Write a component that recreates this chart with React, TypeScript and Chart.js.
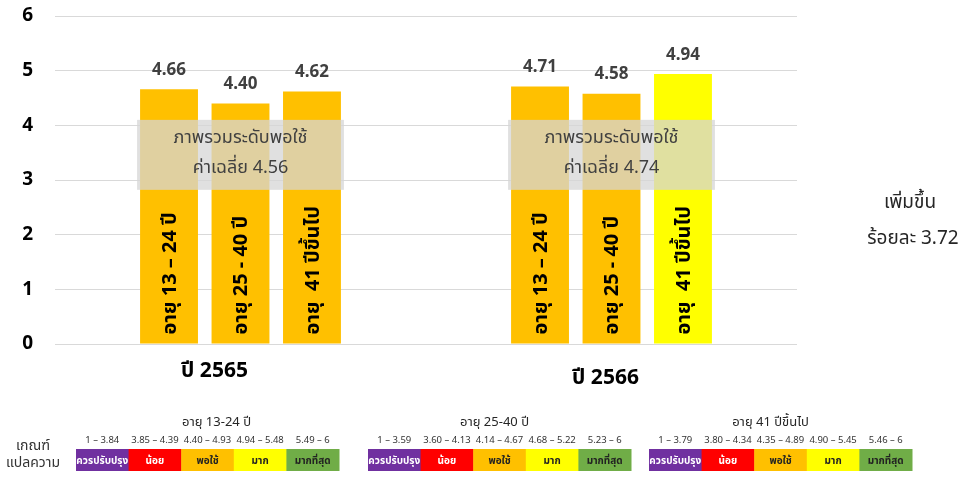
import React, { useEffect, useRef } from "react";
import { Chart, registerables } from "chart.js";

Chart.register(...registerables);

// ---------- data ----------
const years = ["ปี 2565", "ปี 2566"];
const ageGroups = ["อายุ 13 – 24 ปี", "อายุ 25 - 40 ปี", "อายุ  41 ปีขึ้นไป"];
const age13to24 = [4.66, 4.71];
const age25to40 = [4.4, 4.58];
const age41up = [4.62, 4.94];
const age13to24Colors = ["#FFC000", "#FFC000"];
const age25to40Colors = ["#FFC000", "#FFC000"];
const age41upColors = ["#FFC000", "#FFFF00"];
const overallText = ["ภาพรวมระดับพอใช้", "ภาพรวมระดับพอใช้"];
const overallMeans = ["4.56", "4.74"];
const changeLines = ["เพิ่มขึ้น", "ร้อยละ 3.72"];
const yTicks = [0, 1, 2, 3, 4, 5, 6];

const criteriaTitles = ["อายุ 13-24 ปี", "อายุ 25-40 ปี", "อายุ 41 ปีขึ้นไป"];
const criteriaRanges13to24 = ["1 – 3.84", "3.85 – 4.39", "4.40 – 4.93", "4.94 – 5.48", "5.49 – 6"];
const criteriaRanges25to40 = ["1 – 3.59", "3.60 – 4.13", "4.14 – 4.67", "4.68 – 5.22", "5.23 – 6"];
const criteriaRanges41up = ["1 – 3.79", "3.80 – 4.34", "4.35 – 4.89", "4.90 – 5.45", "5.46 – 6"];
const criteriaLevels = ["ควรปรับปรุง", "น้อย", "พอใช้", "มาก", "มากที่สุด"];
const criteriaColors = ["#7030A0", "#FF0000", "#FFC000", "#FFFF00", "#70AD47"];
const criteriaTextColors = ["#FFFFFF", "#FFFFFF", "#222222", "#222222", "#222222"];
const criteriaHeader = ["เกณฑ์", "แปลความ"];

// ---------- layout (styles / positions) ----------
const FONT = "'Noto Sans', 'Noto Sans Thai', Tahoma, 'DejaVu Sans', sans-serif";
const tableLefts = [76, 368, 649];
const tableTitleOffsets = [9, -5, -10];
const CELL_W = 52.6;
const CELL_H = 22;
const CELL_TOP = 449;
const yearLabelOffsets = [
  { dx: -26, y: 371 },
  { dx: -6, y: 378 },
];
const BOX_TOP_VALUE = 4.1;
const BOX_BOTTOM_VALUE = 2.82;

const annotations = {
  id: "annotations",
  afterDatasetsDraw(chart: any) {
    const ctx = chart.ctx;
    const yScale = chart.scales.y;
    const xScale = chart.scales.x;
    const n = chart.data.datasets.length;

    // inner rotated labels
    for (let d = 0; d < n; d++) {
      const meta = chart.getDatasetMeta(d);
      meta.data.forEach((bar: any) => {
        ctx.save();
        ctx.translate(bar.x, bar.base - 9);
        ctx.rotate(-Math.PI / 2);
        ctx.font = `bold 20px ${FONT}`;
        ctx.fillStyle = "#000000";
        ctx.textAlign = "left";
        ctx.textBaseline = "middle";
        ctx.fillText(ageGroups[d], 0, 1);
        ctx.restore();
      });
    }

    // overlay boxes
    const top = yScale.getPixelForValue(BOX_TOP_VALUE);
    const bottom = yScale.getPixelForValue(BOX_BOTTOM_VALUE);
    for (let i = 0; i < years.length; i++) {
      const first: any = chart.getDatasetMeta(0).data[i];
      const last: any = chart.getDatasetMeta(n - 1).data[i];
      const left = first.x - first.width / 2 - 3;
      const right = last.x + last.width / 2 + 3;
      ctx.save();
      ctx.fillStyle = "rgba(214,214,214,0.75)";
      ctx.fillRect(left, top, right - left, bottom - top);
      ctx.font = `18px ${FONT}`;
      ctx.fillStyle = "#404040";
      ctx.textAlign = "center";
      ctx.textBaseline = "middle";
      const cx = (left + right) / 2;
      ctx.fillText(overallText[i], cx, top + 18);
      ctx.fillText("ค่าเฉลี่ย " + overallMeans[i], cx, top + 48);
      ctx.restore();
    }

    // value labels
    for (let d = 0; d < n; d++) {
      const meta = chart.getDatasetMeta(d);
      const ds = chart.data.datasets[d];
      meta.data.forEach((bar: any, i: number) => {
        ctx.save();
        ctx.font = `bold 17px ${FONT}`;
        ctx.fillStyle = "#404040";
        ctx.textAlign = "center";
        ctx.textBaseline = "middle";
        ctx.fillText((ds.data[i] as number).toFixed(2), bar.x, bar.y - 19);
        ctx.restore();
      });
    }

    // year labels
    years.forEach((label, i) => {
      ctx.save();
      ctx.font = `bold 21px ${FONT}`;
      ctx.fillStyle = "#000000";
      ctx.textAlign = "center";
      ctx.textBaseline = "middle";
      ctx.fillText(label, xScale.getPixelForValue(i) + yearLabelOffsets[i].dx, yearLabelOffsets[i].y);
      ctx.restore();
    });

    // change text on the right
    ctx.save();
    ctx.font = `19px ${FONT}`;
    ctx.fillStyle = "#262626";
    ctx.textAlign = "center";
    ctx.textBaseline = "middle";
    ctx.fillText(changeLines[0], 910, 203);
    ctx.fillText(changeLines[1], 913, 239);
    ctx.restore();

    // criteria tables
    ctx.save();
    ctx.font = `14px ${FONT}`;
    ctx.fillStyle = "#333333";
    ctx.textAlign = "center";
    ctx.textBaseline = "middle";
    ctx.fillText(criteriaHeader[0], 33, 446);
    ctx.fillText(criteriaHeader[1], 33, 463);
    const rangeSets = [criteriaRanges13to24, criteriaRanges25to40, criteriaRanges41up];
    tableLefts.forEach((left, t) => {
      ctx.font = `13px ${FONT}`;
      ctx.fillStyle = "#262626";
      ctx.fillText(criteriaTitles[t], left + (CELL_W * 5) / 2 + tableTitleOffsets[t], 422);
      for (let c = 0; c < 5; c++) {
        const x = left + c * CELL_W;
        ctx.fillStyle = criteriaColors[c];
        ctx.fillRect(x, CELL_TOP, CELL_W + 0.5, CELL_H);
        ctx.font = `9.5px ${FONT}`;
        ctx.fillStyle = "#333333";
        ctx.fillText(rangeSets[t][c], x + CELL_W / 2, 440);
        ctx.font = `bold 10px ${FONT}`;
        ctx.fillStyle = criteriaTextColors[c];
        ctx.fillText(criteriaLevels[c], x + CELL_W / 2, CELL_TOP + CELL_H / 2 + 1);
      }
    });
    ctx.restore();
  },
};

export default function App() {
  const canvasRef = useRef<HTMLCanvasElement | null>(null);

  useEffect(() => {
    if (!canvasRef.current) return;
    const chart = new Chart(canvasRef.current, {
      type: "bar",
      data: {
        labels: years,
        datasets: [
          { label: ageGroups[0], data: age13to24, backgroundColor: age13to24Colors },
          { label: ageGroups[1], data: age25to40, backgroundColor: age25to40Colors },
          { label: ageGroups[2], data: age41up, backgroundColor: age41upColors },
        ],
      },
      options: {
        animation: false,
        responsive: true,
        maintainAspectRatio: false,
        devicePixelRatio: 1,
        datasets: {
          bar: { categoryPercentage: 0.578, barPercentage: 0.81 },
        },
        layout: { padding: { top: 16, right: 183, bottom: 140, left: 0 } },
        plugins: {
          legend: { display: false },
          tooltip: { enabled: false },
        },
        scales: {
          x: { display: false },
          y: {
            min: 0,
            max: 6,
            afterFit: (s: any) => {
              s.width = 55;
              s.paddingTop = 0;
              s.paddingBottom = 0;
            },
            afterBuildTicks: (s: any) => {
              s.ticks = yTicks.map((v) => ({ value: v }));
            },
            ticks: {
              font: { family: FONT, size: 19, weight: "bold" },
              color: "#000000",
              padding: 22,
            },
            grid: { color: "#D9D9D9", drawTicks: false },
            border: { display: false },
          },
        },
      },
      plugins: [annotations],
    });
    return () => chart.destroy();
  }, []);

  return (
    <div style={{ position: "fixed", left: 0, top: 0, width: 980, height: 484, background: "#ffffff" }}>
      <canvas ref={canvasRef} />
    </div>
  );
}
